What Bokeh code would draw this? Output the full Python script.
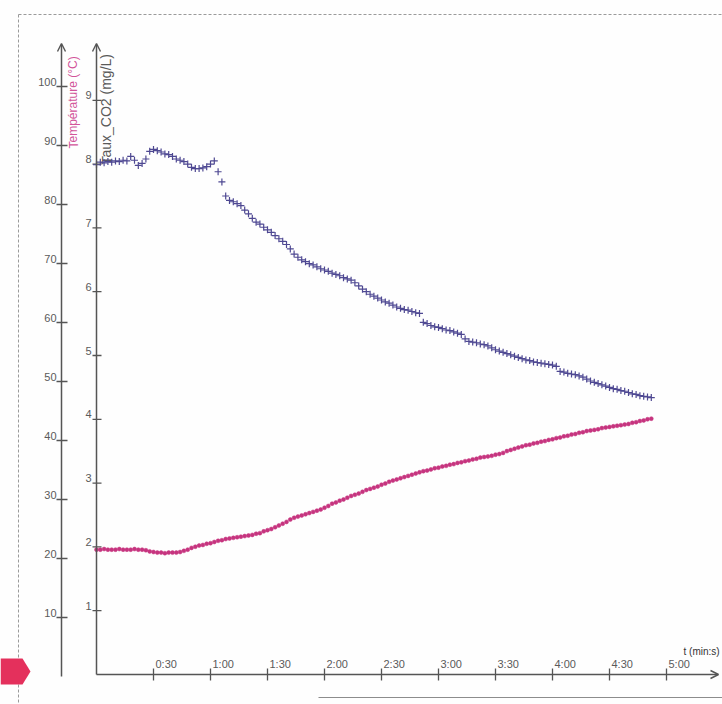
from bokeh.plotting import figure
from bokeh.models import Range1d, Arrow, OpenHead
from bokeh.embed import file_html
from bokeh.resources import INLINE
from bokeh.core.properties import value

# ---------------- data ----------------
time_s = list(range(0, 293, 2))  # sampling every 2 s, 0 .. 4:52

co2_mgL = [
    7.99, 8.03, 8.02, 8.04, 8.03, 8.05, 8.04, 8.06, 8.05, 8.12,
    8.06, 7.98, 8.01, 8.08, 8.20, 8.23, 8.21, 8.19, 8.16, 8.15,
    8.12, 8.08, 8.06, 8.04, 8.00, 7.95, 7.93, 7.93, 7.94, 7.96,
    8.00, 8.05, 7.88, 7.72, 7.50, 7.43, 7.41, 7.38, 7.35, 7.28,
    7.22, 7.15, 7.09, 7.06, 7.01, 6.97, 6.93, 6.88, 6.83, 6.79,
    6.74, 6.67, 6.59, 6.54, 6.50, 6.47, 6.44, 6.42, 6.39, 6.36,
    6.34, 6.32, 6.29, 6.27, 6.25, 6.22, 6.20, 6.18, 6.14, 6.09,
    6.04, 6.00, 5.96, 5.93, 5.90, 5.87, 5.84, 5.82, 5.79, 5.76,
    5.74, 5.72, 5.71, 5.69, 5.67, 5.66, 5.52, 5.50, 5.47, 5.45,
    5.44, 5.42, 5.40, 5.39, 5.37, 5.35, 5.33, 5.26, 5.22, 5.21,
    5.20, 5.18, 5.17, 5.15, 5.12, 5.09, 5.07, 5.05, 5.03, 5.01,
    4.99, 4.97, 4.95, 4.93, 4.92, 4.90, 4.89, 4.88, 4.87, 4.86,
    4.85, 4.83, 4.75, 4.74, 4.72, 4.71, 4.70, 4.68, 4.66, 4.63,
    4.60, 4.58, 4.56, 4.54, 4.52, 4.50, 4.48, 4.47, 4.45, 4.44,
    4.42, 4.40, 4.39, 4.37, 4.36, 4.35, 4.34,
]

temperature_C = [
    21.5, 21.5, 21.6, 21.5, 21.5, 21.5, 21.6, 21.5, 21.5, 21.5,
    21.6, 21.5, 21.5, 21.4, 21.2, 21.1, 21.0, 21.0, 20.9, 21.0,
    21.0, 21.0, 21.1, 21.3, 21.5, 21.8, 22.0, 22.2, 22.3, 22.5,
    22.6, 22.8, 23.0, 23.1, 23.3, 23.4, 23.5, 23.6, 23.7, 23.8,
    23.9, 24.0, 24.2, 24.3, 24.6, 24.8, 25.0, 25.3, 25.6, 25.9,
    26.2, 26.6, 26.9, 27.1, 27.3, 27.5, 27.7, 27.9, 28.1, 28.3,
    28.6, 28.9, 29.3, 29.5, 29.8, 30.0, 30.3, 30.6, 30.8, 31.0,
    31.3, 31.6, 31.8, 32.0, 32.2, 32.5, 32.7, 33.0, 33.2, 33.4,
    33.6, 33.8, 34.0, 34.2, 34.4, 34.6, 34.8, 34.9, 35.1, 35.3,
    35.4, 35.6, 35.7, 35.9, 36.0, 36.2, 36.3, 36.5, 36.6, 36.8,
    36.9, 37.1, 37.2, 37.3, 37.4, 37.6, 37.7, 37.9, 38.2, 38.4,
    38.6, 38.8, 39.0, 39.2, 39.3, 39.5, 39.6, 39.8, 39.9, 40.1,
    40.2, 40.4, 40.5, 40.7, 40.8, 41.0, 41.1, 41.3, 41.4, 41.6,
    41.7, 41.8, 41.9, 42.1, 42.2, 42.3, 42.4, 42.5, 42.6, 42.7,
    42.8, 43.0, 43.1, 43.3, 43.4, 43.6, 43.7,
]

temp_ticks = [10, 20, 30, 40, 50, 60, 70, 80, 90, 100]
co2_ticks = [1, 2, 3, 4, 5, 6, 7, 8, 9]
time_ticks = [30, 60, 90, 120, 150, 180, 210, 240, 270, 300]
time_tick_labels = ["0:30", "1:00", "1:30", "2:00", "2:30", "3:00", "3:30", "4:00", "4:30", "5:00"]

temp_title = "Température (°C)"
co2_title = "Taux_CO2 (mg/L)"
time_title = "t (min:s)"

# ---------------- layout (pixels) ----------------
W, H = 722, 704
X0, PX_S = 96, 1.9            # time origin / px per second
Y0_C, PX_C = 674, 63.8        # CO2 origin / px per mg/L
Y0_T, PX_T = 676, 5.9         # temperature origin / px per °C
X_TEMP_AXIS = 61
AX_TOP = 43

def tx(px):
    return (px - X0) / PX_S

def cy(py):
    return (Y0_C - py) / PX_C

def ty(py):
    return (Y0_T - py) / PX_T

AXIS_COL = "#555555"
TEXT_COL = "#5a5a5a"
TEMP_COL = "#c6347f"
CO2_COL = "#4e4892"
FONT = value("Liberation Sans")

p = figure(width=W, height=H, title=None,
           x_range=Range1d(tx(0), tx(W)), y_range=Range1d(cy(H), cy(0)),
           x_axis_location=None, y_axis_location=None,
           output_backend="svg", toolbar_location=None, min_border=0)
p.extra_y_ranges = {"temp": Range1d(ty(H), ty(0))}
p.grid.visible = False
p.outline_line_color = None
p.background_fill_color = "#fefefe"
p.border_fill_color = "#fefefe"

# dashed page frame
p.segment(x0=[tx(18), tx(18)], y0=[cy(14), cy(14)], x1=[tx(18), tx(W)], y1=[cy(H), cy(14)],
          line_color="#9a9a9a", line_width=1, line_dash="3 2")
p.segment(x0=[tx(318)], y0=[cy(697)], x1=[tx(W)], y1=[cy(697)], line_color="#8c8c8c", line_width=1.2)

# page marker
p.patch(x=[tx(0), tx(22), tx(30), tx(22), tx(0)], y=[cy(658), cy(658), cy(671), cy(684), cy(684)],
        color="#e4305c", line_color=None)

# axes with open arrow heads
def axis_arrow(x0, y0, x1, y1):
    p.add_layout(Arrow(end=OpenHead(size=8, line_color=AXIS_COL, line_width=1.4),
                       x_start=x0, y_start=y0, x_end=x1, y_end=y1,
                       line_color=AXIS_COL, line_width=1.5))

axis_arrow(tx(X_TEMP_AXIS), cy(Y0_T), tx(X_TEMP_AXIS), cy(AX_TOP))
axis_arrow(0, 0, 0, cy(AX_TOP))
axis_arrow(0, 0, tx(718), 0)

# temperature ticks and labels
p.segment(x0=[tx(X_TEMP_AXIS - 5)] * len(temp_ticks), x1=[tx(X_TEMP_AXIS + 6)] * len(temp_ticks),
          y0=temp_ticks, y1=temp_ticks, y_range_name="temp", line_color=AXIS_COL, line_width=1.3)
p.text(x=[tx(X_TEMP_AXIS - 5)] * len(temp_ticks), y=[v + 1 / PX_T for v in temp_ticks],
       text=[str(v) for v in temp_ticks], y_range_name="temp",
       text_font=FONT, text_font_size=value("11px"), text_color=TEXT_COL,
       text_align="right", text_baseline="bottom")

# CO2 ticks and labels
p.segment(x0=[tx(X0 - 4)] * len(co2_ticks), x1=[tx(X0 + 5)] * len(co2_ticks),
          y0=co2_ticks, y1=co2_ticks, line_color=AXIS_COL, line_width=1.3)
p.text(x=[tx(X0 - 5)] * len(co2_ticks), y=[v + 1 / PX_C for v in co2_ticks],
       text=[str(v) for v in co2_ticks],
       text_font=FONT, text_font_size=value("11px"), text_color=TEXT_COL,
       text_align="right", text_baseline="bottom")

# time ticks and labels
p.segment(x0=time_ticks, x1=time_ticks, y0=[cy(Y0_C + 6)] * len(time_ticks),
          y1=[cy(Y0_C - 6)] * len(time_ticks), line_color=AXIS_COL, line_width=1.3)
p.text(x=[t + 2 / PX_S for t in time_ticks], y=[cy(Y0_C - 5)] * len(time_ticks),
       text=time_tick_labels, text_font=FONT, text_font_size=value("11px"),
       text_color=TEXT_COL, text_align="left", text_baseline="bottom")

# axis titles
p.text(x=[tx(73)], y=[cy(148)], text=[temp_title], angle=1.5708,
       text_font=FONT, text_font_size=value("12px"), text_color="#d2549a",
       text_align="left", text_baseline="middle")
p.text(x=[tx(106)], y=[cy(164)], text=[co2_title], angle=1.5708,
       text_font=FONT, text_font_size=value("14px"), text_color=TEXT_COL,
       text_align="left", text_baseline="middle")
p.text(x=[tx(683)], y=[cy(656)], text=[time_title],
       text_font=FONT, text_font_size=value("10px"), text_color="#333333",
       text_align="left", text_baseline="bottom")

# data series
p.scatter(x=time_s, y=temperature_C, y_range_name="temp", marker="circle", size=4,
          fill_color=TEMP_COL, line_color=TEMP_COL, line_width=0.5)
p.scatter(x=time_s, y=co2_mgL, marker="cross", size=7, line_color=CO2_COL, line_width=1.2)

open("out.html", "w").write(file_html(p, INLINE))
